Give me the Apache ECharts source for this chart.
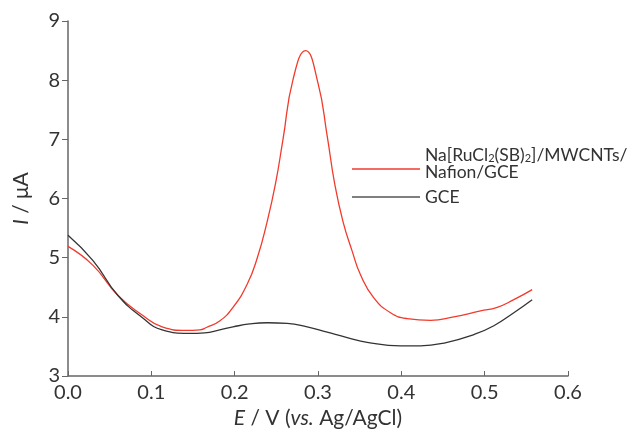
<!DOCTYPE html>
<html>
<head>
<meta charset="utf-8">
<script src="https://cdn.jsdelivr.net/npm/echarts@6/dist/echarts.min.js"></script>
<style>html,body{margin:0;padding:0;background:#fff;}#c{width:630px;height:434px;}</style>
</head>
<body>
<div id="c"></div>
<script>
const xTicks = ['0.0','0.1','0.2','0.3','0.4','0.5','0.6'];
const yTicks = ['3','4','5','6','7','8','9'];
const seriesNames = ['Na[RuCl2(SB)2]/MWCNTs/Nafion/GCE', 'GCE'];

const redE = [0.000,0.030,0.060,0.089,0.113,0.142,0.158,0.166,0.182,0.198,0.215,0.227,0.239,0.249,0.258,0.270,0.285,0.300,0.311,0.320,0.330,0.341,0.351,0.367,0.387,0.407,0.435,0.463,0.495,0.515,0.535,0.557];
const redI = [5.19,4.87,4.36,4.03,3.83,3.77,3.78,3.82,3.93,4.16,4.55,4.99,5.61,6.25,7.00,8.01,8.50,7.95,7.06,6.25,5.61,5.11,4.71,4.32,4.07,3.97,3.94,4.00,4.10,4.16,4.29,4.46];

const blackE = [0.000,0.030,0.060,0.089,0.113,0.145,0.164,0.182,0.198,0.218,0.239,0.263,0.287,0.311,0.335,0.359,0.399,0.423,0.455,0.487,0.511,0.535,0.557];
const blackI = [5.38,4.95,4.36,3.99,3.78,3.72,3.73,3.78,3.83,3.88,3.90,3.89,3.83,3.74,3.65,3.57,3.51,3.51,3.57,3.70,3.85,4.07,4.29];

const zip = (a, b) => a.map((v, i) => [v, b[i]]);
const FONT = 'Lato, "Open Sans", sans-serif';
const LF = 17.5;
const chart = echarts.init(document.getElementById('c'), null, {renderer: 'canvas'});
chart.setOption({
  animation: false,
  backgroundColor: '#fff',
  grid: {left: 68, right: 62, top: 21, bottom: 55, containLabel: false},
  legend: {
    orient: 'vertical',
    left: 352,
    top: 145,
    padding: 0,
    itemWidth: 68,
    itemHeight: 1.5,
    itemGap: 0,
    icon: 'rect',
    data: seriesNames.map(n => ({name: n})),
    formatter: function (name) {
      if (name === 'GCE') return '{a|GCE}';
      return '{a|Na[RuCl}{s|2}{a|(SB)}{s|2}{a|]/MWCNTs/}\n{a|Nafion/GCE}\n{e| }';
    },
    textStyle: {
      color: '#333',
      fontFamily: FONT,
      fontSize: LF,
      rich: {
        a: {fontSize: LF, fontFamily: FONT, color: '#333', lineHeight: 17},
        s: {fontSize: 11, fontFamily: FONT, color: '#333', verticalAlign: 'bottom', padding: [8, 0, 0, 0], lineHeight: 17},
        e: {fontSize: 4, lineHeight: 10}
      }
    }
  },
  xAxis: {
    type: 'value',
    min: 0, max: 0.6, interval: 0.1,
    name: '{i|E} / V ({i|vs.} Ag/AgCl)',
    nameLocation: 'middle',
    nameGap: 32,
    nameTextStyle: {
      fontFamily: FONT, fontSize: 21, color: '#333',
      rich: {i: {fontStyle: 'italic', fontFamily: FONT, fontSize: 21, color: '#333'}}
    },
    axisLine: {show: true, lineStyle: {color: '#666', width: 1.5}},
    axisTick: {show: true, inside: true, length: 5, lineStyle: {color: '#666'}},
    axisLabel: {
      fontFamily: FONT, fontSize: 20, color: '#333', margin: 7,
      formatter: v => xTicks[Math.round(v * 10)]
    },
    splitLine: {show: false}
  },
  yAxis: {
    type: 'value',
    min: 3, max: 9, interval: 1,
    name: '{i|I} / μA',
    nameLocation: 'middle',
    nameGap: 36,
    nameRotate: 90,
    nameTextStyle: {
      fontFamily: FONT, fontSize: 21, color: '#333',
      rich: {i: {fontStyle: 'italic', fontFamily: FONT, fontSize: 21, color: '#333'}}
    },
    axisLine: {show: true, lineStyle: {color: '#666', width: 1.5}},
    axisTick: {show: true, inside: false, length: 6, lineStyle: {color: '#666'}},
    axisLabel: {
      fontFamily: FONT, fontSize: 20, color: '#333', margin: 8,
      formatter: v => yTicks[Math.round(v) - 3]
    },
    splitLine: {show: false}
  },
  series: [
    {
      name: seriesNames[0], type: 'line', data: zip(redE, redI),
      smooth: 0.5, showSymbol: false, symbol: 'none',
      lineStyle: {color: '#f23a2c', width: 1.3}, itemStyle: {color: '#f23a2c'}
    },
    {
      name: seriesNames[1], type: 'line', data: zip(blackE, blackI),
      smooth: 0.5, showSymbol: false, symbol: 'none',
      lineStyle: {color: '#333', width: 1.3}, itemStyle: {color: '#555'}
    }
  ]
});
</script>
</body>
</html>
